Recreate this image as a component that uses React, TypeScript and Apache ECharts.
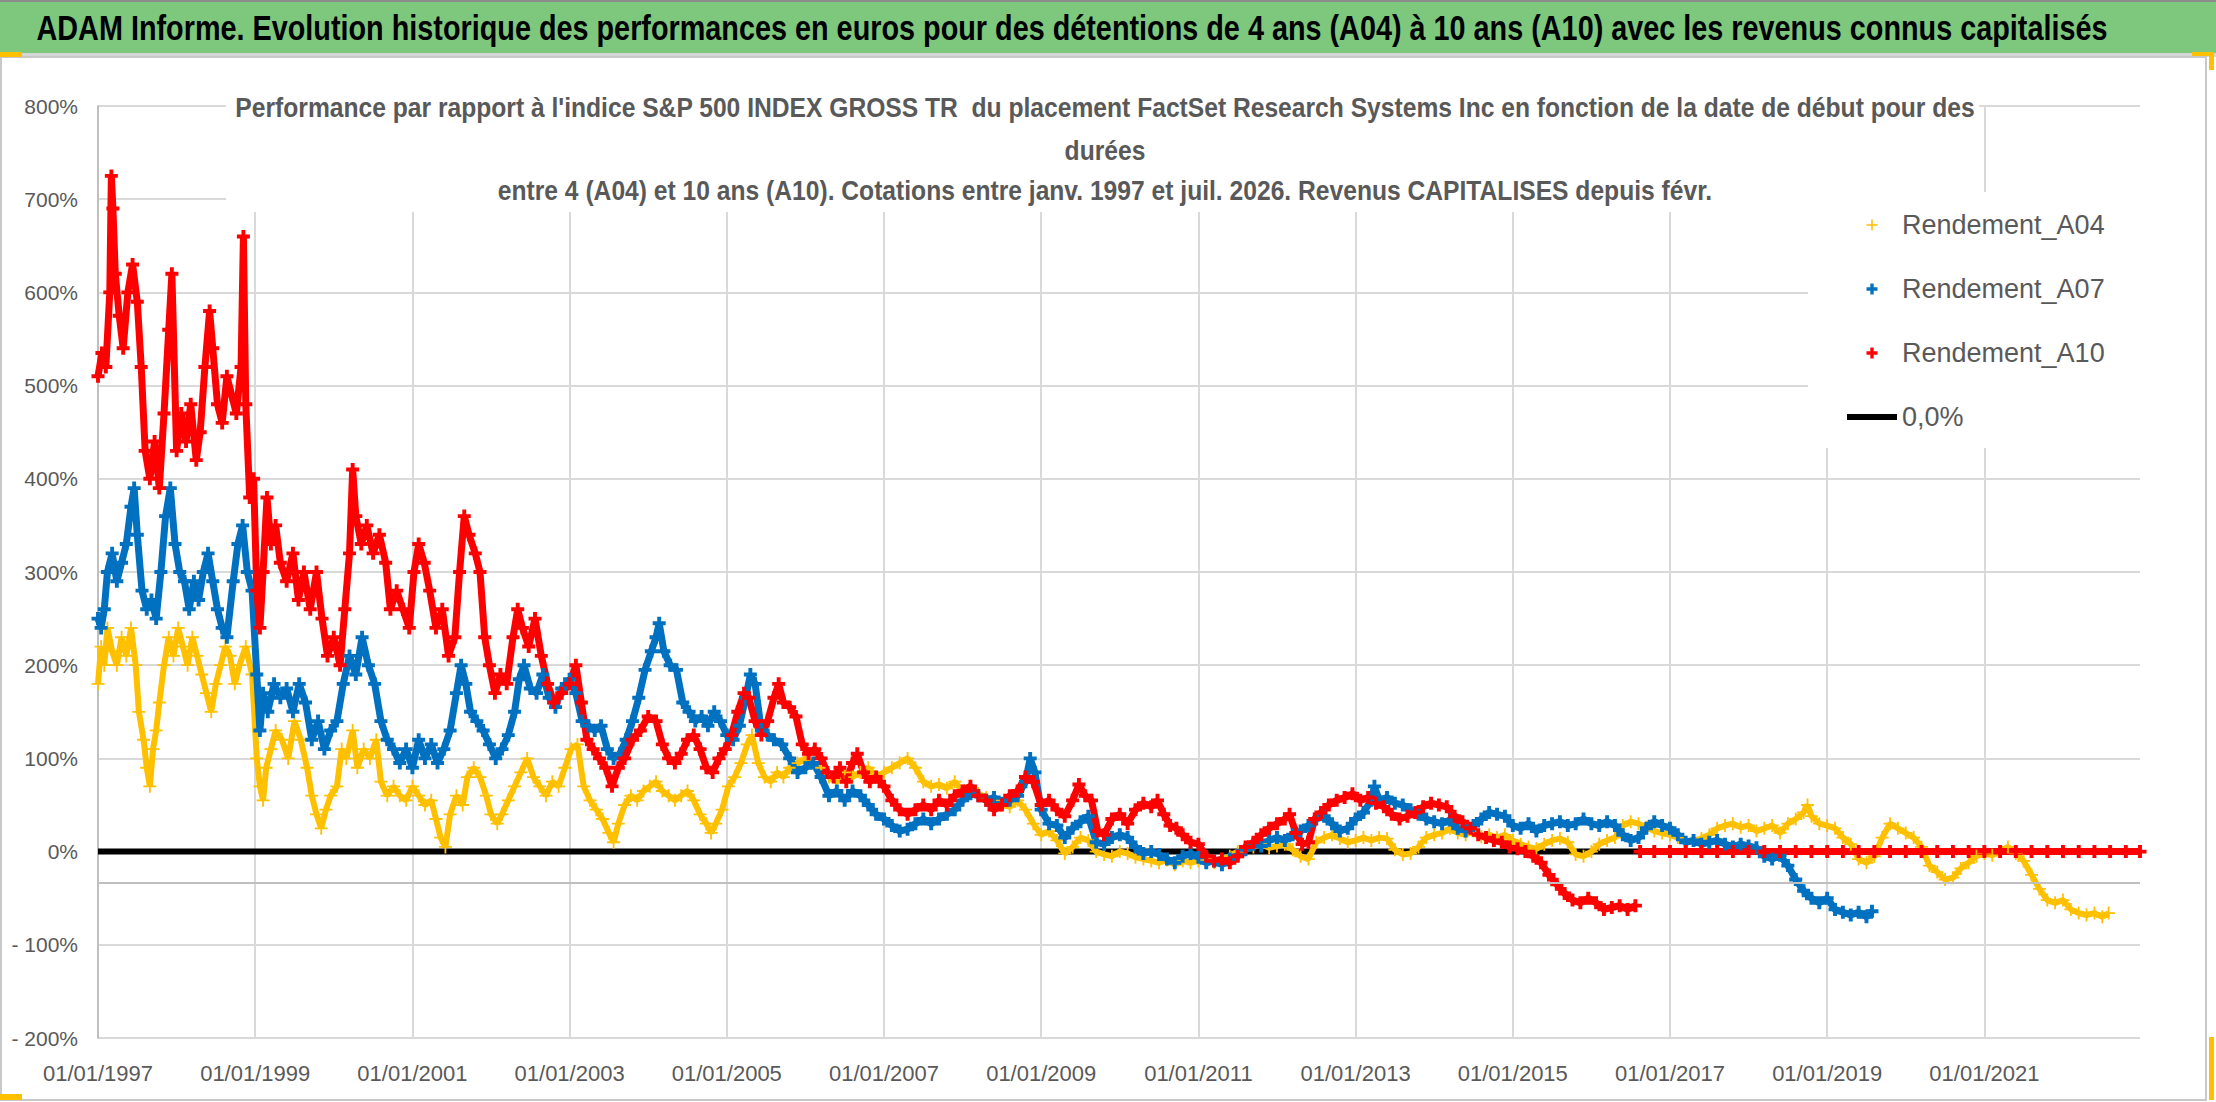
import { useEffect, useRef } from 'react';
import * as echarts from 'echarts';

const START_YEAR = 1997;
const END_X = 2022.98;
const AXIS_LINE_LEVEL = -33;

// [date as decimal year, performance %]
const rendementA04: [number, number][] = [
  [1997.0, 180], [1997.04, 220], [1997.08, 200], [1997.12, 240], [1997.18, 215], [1997.24, 200], [1997.3, 230],
  [1997.36, 210], [1997.42, 240], [1997.48, 200], [1997.52, 150], [1997.58, 120], [1997.62, 90], [1997.66, 70],
  [1997.7, 110], [1997.74, 130], [1997.78, 160], [1997.84, 200], [1997.9, 230], [1997.96, 210], [1998.02, 240],
  [1998.08, 220], [1998.14, 200], [1998.2, 230], [1998.26, 210], [1998.32, 190], [1998.38, 170], [1998.44, 150],
  [1998.5, 180], [1998.56, 200], [1998.62, 220], [1998.68, 210], [1998.74, 180], [1998.8, 200], [1998.88, 220],
  [1998.96, 190], [1999.02, 100], [1999.06, 70], [1999.1, 55], [1999.14, 90], [1999.2, 110], [1999.26, 130],
  [1999.34, 120], [1999.42, 100], [1999.5, 140], [1999.58, 120], [1999.66, 90], [1999.72, 60], [1999.78, 40],
  [1999.84, 25], [1999.9, 45], [1999.96, 60], [2000.04, 70], [2000.1, 110], [2000.16, 100], [2000.24, 130],
  [2000.3, 90], [2000.38, 110], [2000.46, 100], [2000.54, 120], [2000.6, 75], [2000.68, 60], [2000.76, 70],
  [2000.84, 60], [2000.92, 55], [2001.0, 70], [2001.08, 60], [2001.16, 50], [2001.24, 55], [2001.3, 35],
  [2001.36, 15], [2001.42, 5], [2001.48, 40], [2001.56, 60], [2001.64, 50], [2001.7, 80], [2001.78, 90],
  [2001.86, 80], [2001.94, 60], [2002.0, 40], [2002.08, 30], [2002.14, 40], [2002.22, 55], [2002.3, 70],
  [2002.38, 85], [2002.46, 100], [2002.54, 80], [2002.62, 70], [2002.7, 60], [2002.78, 75], [2002.86, 70],
  [2002.94, 90], [2003.02, 110], [2003.1, 115], [2003.18, 70], [2003.26, 55], [2003.34, 45], [2003.42, 35],
  [2003.5, 20], [2003.56, 10], [2003.62, 30], [2003.7, 50], [2003.78, 60], [2003.86, 55], [2003.94, 65],
  [2004.02, 70], [2004.1, 75], [2004.18, 65], [2004.26, 60], [2004.34, 55], [2004.42, 60], [2004.5, 65],
  [2004.58, 55], [2004.66, 40], [2004.74, 30], [2004.8, 20], [2004.86, 30], [2004.94, 45], [2005.02, 70],
  [2005.1, 80], [2005.18, 95], [2005.26, 115], [2005.32, 125], [2005.4, 95], [2005.48, 80], [2005.56, 75],
  [2005.64, 85], [2005.72, 80], [2005.8, 90], [2005.9, 95], [2006.0, 100], [2006.1, 95], [2006.2, 90],
  [2006.3, 80], [2006.4, 75], [2006.5, 85], [2006.6, 80], [2006.7, 85], [2006.8, 90], [2006.9, 80],
  [2007.0, 85], [2007.1, 90], [2007.2, 95], [2007.3, 100], [2007.4, 90], [2007.5, 75], [2007.6, 70],
  [2007.7, 72], [2007.8, 68], [2007.9, 75], [2008.0, 65], [2008.1, 70], [2008.2, 62], [2008.3, 58],
  [2008.4, 55], [2008.5, 50], [2008.6, 48], [2008.7, 55], [2008.8, 45], [2008.9, 30], [2009.0, 18],
  [2009.1, 22], [2009.2, 12], [2009.3, -2], [2009.4, 5], [2009.5, 15], [2009.6, 12], [2009.7, 0],
  [2009.8, -3], [2009.9, -5], [2010.0, 0], [2010.1, -2], [2010.2, -6], [2010.3, -8], [2010.4, -10],
  [2010.5, -12], [2010.6, -9], [2010.7, -14], [2010.8, -10], [2010.9, -12], [2011.0, -10], [2011.1, -8],
  [2011.2, -12], [2011.3, -9], [2011.4, -5], [2011.5, 0], [2011.6, 3], [2011.7, 5], [2011.8, 8],
  [2011.9, 4], [2012.0, 6], [2012.1, 8], [2012.2, 2], [2012.3, -5], [2012.4, -8], [2012.5, 10],
  [2012.6, 15], [2012.7, 18], [2012.8, 14], [2012.9, 10], [2013.0, 12], [2013.1, 15], [2013.2, 12],
  [2013.3, 15], [2013.4, 14], [2013.5, 2], [2013.6, -3], [2013.7, -2], [2013.8, 5], [2013.9, 15],
  [2014.0, 18], [2014.1, 20], [2014.2, 25], [2014.3, 20], [2014.4, 18], [2014.5, 22], [2014.6, 16],
  [2014.7, 18], [2014.8, 15], [2014.9, 18], [2015.0, 12], [2015.1, 8], [2015.2, 5], [2015.3, 3],
  [2015.4, 8], [2015.5, 12], [2015.6, 14], [2015.7, 10], [2015.8, -3], [2015.9, -5], [2016.0, 0],
  [2016.1, 8], [2016.2, 12], [2016.3, 15], [2016.4, 28], [2016.5, 32], [2016.6, 30], [2016.7, 26],
  [2016.8, 22], [2016.9, 20], [2017.0, 18], [2017.1, 15], [2017.2, 10], [2017.3, 12], [2017.4, 14],
  [2017.5, 18], [2017.6, 25], [2017.7, 28], [2017.8, 30], [2017.9, 26], [2018.0, 28], [2018.1, 22],
  [2018.2, 25], [2018.3, 28], [2018.4, 20], [2018.5, 30], [2018.6, 35], [2018.7, 42], [2018.75, 50],
  [2018.8, 38], [2018.9, 30], [2019.0, 28], [2019.1, 25], [2019.2, 15], [2019.3, 8], [2019.4, -8],
  [2019.5, -12], [2019.6, -5], [2019.7, 15], [2019.8, 30], [2019.9, 25], [2020.0, 20], [2020.1, 15],
  [2020.2, 5], [2020.3, -15], [2020.4, -22], [2020.5, -30], [2020.6, -28], [2020.7, -18], [2020.8, -12],
  [2020.9, -5], [2021.0, -2], [2021.1, -4], [2021.2, 0], [2021.3, 5], [2021.4, -2], [2021.5, -10],
  [2021.6, -25], [2021.7, -40], [2021.8, -52], [2021.9, -55], [2022.0, -52], [2022.1, -62], [2022.2, -66],
  [2022.3, -68], [2022.4, -66], [2022.5, -70], [2022.58, -66],
];

const rendementA07: [number, number][] = [
  [1997.0, 250], [1997.04, 240], [1997.08, 260], [1997.12, 300], [1997.18, 320], [1997.24, 290], [1997.3, 310],
  [1997.36, 330], [1997.42, 370], [1997.46, 390], [1997.5, 340], [1997.56, 280], [1997.62, 260], [1997.68, 270],
  [1997.74, 250], [1997.8, 300], [1997.86, 360], [1997.92, 390], [1997.98, 330], [1998.04, 300], [1998.1, 290],
  [1998.16, 260], [1998.22, 290], [1998.28, 270], [1998.34, 300], [1998.4, 320], [1998.46, 290], [1998.52, 260],
  [1998.58, 240], [1998.64, 230], [1998.72, 290], [1998.78, 330], [1998.84, 350], [1998.9, 300], [1998.96, 280],
  [1999.02, 190], [1999.06, 130], [1999.1, 170], [1999.16, 150], [1999.24, 180], [1999.32, 165], [1999.4, 175],
  [1999.48, 150], [1999.56, 180], [1999.64, 160], [1999.72, 120], [1999.8, 140], [1999.88, 110], [1999.96, 130],
  [2000.04, 140], [2000.12, 180], [2000.2, 210], [2000.28, 190], [2000.36, 230], [2000.44, 200], [2000.52, 180],
  [2000.6, 140], [2000.68, 120], [2000.76, 110], [2000.84, 95], [2000.92, 110], [2001.0, 90], [2001.08, 120],
  [2001.16, 100], [2001.24, 115], [2001.32, 95], [2001.4, 110], [2001.48, 130], [2001.56, 170], [2001.62, 200],
  [2001.68, 180], [2001.74, 150], [2001.82, 140], [2001.9, 130], [2001.98, 115], [2002.06, 100], [2002.14, 110],
  [2002.22, 125], [2002.3, 150], [2002.36, 185], [2002.42, 200], [2002.5, 175], [2002.58, 170], [2002.66, 190],
  [2002.74, 165], [2002.82, 155], [2002.9, 175], [2003.0, 185], [2003.08, 170], [2003.16, 140], [2003.24, 135],
  [2003.32, 130], [2003.4, 135], [2003.48, 110], [2003.56, 100], [2003.64, 105], [2003.72, 120], [2003.8, 140],
  [2003.88, 165], [2003.96, 195], [2004.04, 215], [2004.1, 230], [2004.14, 245], [2004.2, 215], [2004.28, 200],
  [2004.36, 195], [2004.44, 160], [2004.52, 150], [2004.6, 140], [2004.68, 145], [2004.76, 135], [2004.84, 150],
  [2004.92, 140], [2005.0, 125], [2005.08, 120], [2005.16, 135], [2005.24, 165], [2005.3, 190], [2005.36, 180],
  [2005.44, 130], [2005.52, 125], [2005.6, 120], [2005.7, 115], [2005.8, 100], [2005.9, 85], [2006.0, 90],
  [2006.1, 95], [2006.2, 80], [2006.3, 60], [2006.4, 65], [2006.5, 55], [2006.6, 65], [2006.7, 60],
  [2006.8, 50], [2006.9, 40], [2007.0, 35], [2007.1, 28], [2007.2, 22], [2007.3, 24], [2007.4, 30],
  [2007.5, 35], [2007.6, 30], [2007.7, 35], [2007.8, 40], [2007.9, 45], [2008.0, 55], [2008.1, 62],
  [2008.2, 60], [2008.3, 55], [2008.4, 58], [2008.5, 52], [2008.6, 55], [2008.7, 60], [2008.8, 75],
  [2008.86, 100], [2008.92, 85], [2009.0, 45], [2009.1, 30], [2009.2, 28], [2009.3, 15], [2009.4, 25],
  [2009.5, 32], [2009.6, 38], [2009.7, 10], [2009.8, 8], [2009.9, 15], [2010.0, 18], [2010.1, 15],
  [2010.2, 5], [2010.3, -2], [2010.4, 0], [2010.5, -3], [2010.6, -8], [2010.7, -12], [2010.8, -5],
  [2010.9, -2], [2011.0, -6], [2011.1, -12], [2011.2, -10], [2011.3, -14], [2011.4, -8], [2011.5, -4],
  [2011.6, 2], [2011.7, 8], [2011.8, 6], [2011.9, 12], [2012.0, 15], [2012.1, 12], [2012.2, 18],
  [2012.3, 22], [2012.4, 28], [2012.5, 35], [2012.6, 38], [2012.7, 30], [2012.8, 22], [2012.9, 25],
  [2013.0, 35], [2013.1, 42], [2013.2, 55], [2013.24, 70], [2013.3, 55], [2013.4, 58], [2013.5, 52],
  [2013.6, 50], [2013.7, 45], [2013.8, 40], [2013.9, 35], [2014.0, 32], [2014.1, 30], [2014.2, 34],
  [2014.3, 25], [2014.4, 22], [2014.5, 28], [2014.6, 35], [2014.7, 42], [2014.8, 40], [2014.9, 38],
  [2015.0, 28], [2015.1, 25], [2015.2, 30], [2015.3, 22], [2015.4, 28], [2015.5, 30], [2015.6, 32],
  [2015.7, 28], [2015.8, 30], [2015.9, 35], [2016.0, 30], [2016.1, 28], [2016.2, 32], [2016.3, 28],
  [2016.4, 18], [2016.5, 12], [2016.6, 15], [2016.7, 25], [2016.8, 32], [2016.9, 28], [2017.0, 25],
  [2017.1, 18], [2017.2, 10], [2017.3, 12], [2017.4, 8], [2017.5, 10], [2017.6, 12], [2017.7, 8],
  [2017.8, 5], [2017.9, 8], [2018.0, 6], [2018.1, 4], [2018.2, -5], [2018.3, -8], [2018.4, -4],
  [2018.5, -15], [2018.6, -30], [2018.7, -42], [2018.8, -50], [2018.9, -55], [2019.0, -50], [2019.1, -62],
  [2019.2, -65], [2019.3, -68], [2019.4, -65], [2019.5, -70], [2019.57, -64],
];

const rendementA10: [number, number][] = [
  [1997.0, 510], [1997.05, 535], [1997.1, 520], [1997.15, 600], [1997.17, 725], [1997.19, 690], [1997.22, 620],
  [1997.27, 575], [1997.32, 540], [1997.38, 600], [1997.44, 630], [1997.5, 590], [1997.55, 520], [1997.6, 430],
  [1997.66, 400], [1997.72, 440], [1997.78, 390], [1997.84, 470], [1997.9, 560], [1997.94, 620], [1998.0, 430],
  [1998.06, 470], [1998.12, 440], [1998.18, 480], [1998.25, 420], [1998.3, 450], [1998.36, 520], [1998.42, 580],
  [1998.46, 540], [1998.52, 480], [1998.58, 460], [1998.64, 510], [1998.7, 490], [1998.76, 470], [1998.82, 520],
  [1998.85, 660], [1998.88, 480], [1998.93, 380], [1998.98, 400], [1999.02, 280], [1999.06, 240], [1999.1, 300],
  [1999.15, 380], [1999.2, 330], [1999.26, 350], [1999.32, 310], [1999.4, 290], [1999.48, 320], [1999.55, 270],
  [1999.62, 300], [1999.7, 260], [1999.78, 300], [1999.85, 250], [1999.92, 210], [2000.0, 230], [2000.08, 200],
  [2000.14, 260], [2000.2, 320], [2000.24, 410], [2000.28, 360], [2000.35, 330], [2000.42, 350], [2000.5, 320],
  [2000.58, 340], [2000.66, 310], [2000.72, 260], [2000.8, 280], [2000.88, 260], [2000.96, 240], [2001.02, 300],
  [2001.08, 330], [2001.15, 310], [2001.22, 280], [2001.3, 240], [2001.38, 260], [2001.46, 210], [2001.54, 230],
  [2001.6, 300], [2001.66, 360], [2001.72, 340], [2001.8, 320], [2001.86, 300], [2001.92, 230], [2001.98, 200],
  [2002.05, 170], [2002.12, 190], [2002.2, 180], [2002.28, 230], [2002.34, 260], [2002.4, 240], [2002.48, 220],
  [2002.56, 250], [2002.64, 210], [2002.72, 180], [2002.8, 160], [2002.9, 170], [2003.0, 180], [2003.08, 200],
  [2003.15, 160], [2003.22, 120], [2003.3, 110], [2003.38, 100], [2003.46, 90], [2003.54, 70], [2003.62, 90],
  [2003.7, 100], [2003.8, 120], [2003.9, 130], [2004.0, 145], [2004.1, 140], [2004.18, 115], [2004.26, 100],
  [2004.34, 95], [2004.42, 105], [2004.5, 120], [2004.58, 125], [2004.66, 110], [2004.74, 90], [2004.82, 85],
  [2004.9, 100], [2004.98, 110], [2005.06, 125], [2005.14, 150], [2005.22, 170], [2005.28, 165], [2005.36, 140],
  [2005.44, 125], [2005.52, 140], [2005.6, 165], [2005.66, 180], [2005.72, 160], [2005.8, 155], [2005.88, 145],
  [2005.96, 115], [2006.04, 105], [2006.12, 110], [2006.2, 100], [2006.28, 85], [2006.36, 80], [2006.44, 90],
  [2006.52, 75], [2006.6, 95], [2006.66, 105], [2006.74, 85], [2006.82, 75], [2006.9, 80], [2007.0, 70],
  [2007.1, 55], [2007.2, 45], [2007.3, 40], [2007.4, 45], [2007.5, 50], [2007.6, 45], [2007.7, 55],
  [2007.8, 50], [2007.9, 60], [2008.0, 65], [2008.1, 70], [2008.2, 60], [2008.3, 55], [2008.4, 45],
  [2008.5, 50], [2008.6, 60], [2008.7, 65], [2008.8, 80], [2008.9, 75], [2009.0, 50], [2009.1, 55],
  [2009.2, 45], [2009.3, 38], [2009.4, 55], [2009.48, 72], [2009.56, 60], [2009.64, 55], [2009.72, 22],
  [2009.8, 18], [2009.9, 35], [2010.0, 40], [2010.1, 30], [2010.2, 45], [2010.3, 52], [2010.4, 48],
  [2010.48, 55], [2010.56, 40], [2010.64, 28], [2010.72, 25], [2010.8, 18], [2010.9, 10], [2011.0, 8],
  [2011.1, -5], [2011.2, -10], [2011.3, -8], [2011.4, -12], [2011.5, -5], [2011.6, 5], [2011.7, 10],
  [2011.8, 18], [2011.9, 25], [2012.0, 30], [2012.1, 35], [2012.16, 40], [2012.24, 20], [2012.32, 8],
  [2012.4, 10], [2012.48, 35], [2012.56, 42], [2012.66, 50], [2012.76, 55], [2012.86, 58], [2012.96, 62],
  [2013.06, 55], [2013.16, 58], [2013.26, 52], [2013.36, 48], [2013.46, 40], [2013.56, 35], [2013.66, 38],
  [2013.76, 42], [2013.86, 48], [2013.96, 52], [2014.06, 50], [2014.16, 48], [2014.26, 38], [2014.36, 32],
  [2014.46, 25], [2014.56, 18], [2014.66, 15], [2014.76, 12], [2014.86, 10], [2014.96, 5], [2015.06, 3],
  [2015.16, 0], [2015.26, -5], [2015.36, -12], [2015.46, -25], [2015.56, -35], [2015.66, -45], [2015.76, -52],
  [2015.86, -55], [2015.96, -50], [2016.06, -55], [2016.16, -62], [2016.26, -60], [2016.36, -58], [2016.46, -62],
  [2016.56, -58],
];

// A10 has no value after mid-2016: the sheet plots these start dates at 0
const rendementA10Zero: [number, number][] = [
  [2016.62, 0], [2016.8, 0], [2017.0, 0], [2017.2, 0], [2017.4, 0], [2017.6, 0], [2017.8, 0], [2018.0, 0],
  [2018.2, 0], [2018.4, 0], [2018.6, 0], [2018.8, 0], [2019.0, 0], [2019.2, 0], [2019.4, 0], [2019.6, 0],
  [2019.8, 0], [2020.0, 0], [2020.2, 0], [2020.4, 0], [2020.6, 0], [2020.8, 0], [2021.0, 0], [2021.2, 0],
  [2021.4, 0], [2021.6, 0], [2021.8, 0], [2022.0, 0], [2022.2, 0], [2022.4, 0], [2022.6, 0], [2022.8, 0],
  [2022.98, 0],
];

const zeroLine: [number, number][] = [[1997.0, 0], [END_X, 0]];

const MAIN_TITLE =
  'ADAM Informe. Evolution historique des performances en euros pour des détentions de 4 ans (A04) à 10 ans (A10) avec les revenus connus capitalisés';
const SUB_TITLE = [
  "Performance par rapport à l'indice S&P 500 INDEX GROSS TR  du placement FactSet Research Systems Inc en fonction de la date de début pour des",
  'durées',
  'entre 4 (A04) et 10 ans (A10). Cotations entre janv. 1997 et juil. 2026. Revenus CAPITALISES depuis févr.',
];

const FONT = "'Liberation Sans', Arial, sans-serif";
const GREY_TEXT = '#595959';
const GRID_COLOR = '#D9D9D9';

const PLUS_BOLD = 'path://M3.5 0h3v3.5h3.5v3h-3.5v3.5h-3v-3.5h-3.5v-3h3.5z';
const PLUS_THIN = 'path://M4.3 0h1.4v4.3h4.3v1.4h-4.3v4.3h-1.4v-4.3h-4.3v-1.4h4.3z';
const LINE_ICON = 'path://M0 0h50v6h-50z';

const toX = (pts: [number, number][]) => pts.map(([d, v]) => [d - START_YEAR, v]);

function scatterLine(name: string, color: string, data: (number[] | string[])[], plus: string, width: number) {
  return {
    name,
    type: 'line' as const,
    data,
    symbol: plus,
    symbolSize: 13,
    showSymbol: true,
    showAllSymbol: true,
    connectNulls: false,
    itemStyle: { color },
    lineStyle: { color, width },
    z: 3,
  };
}

// Calibri is not available: a scaled sans keeps the condensed look and the widths
function titleText(text: string, x: number, y: number, size: number, scaleX: number, fill: string) {
  return {
    type: 'text',
    x,
    y,
    scaleX,
    z: 6,
    style: {
      text,
      fill,
      fontSize: size,
      fontWeight: 'bold',
      fontFamily: FONT,
      align: 'center',
      verticalAlign: 'middle',
      textAlign: 'center',
      textVerticalAlign: 'middle',
    },
  };
}

function buildOption(): echarts.EChartsCoreOption {
  const a10 = [...toX(rendementA10), ['-', '-'], ...toX(rendementA10Zero)];
  return {
    animation: false,
    backgroundColor: '#ffffff',
    grid: { left: 98, right: 76, top: 106, bottom: 64, containLabel: false },
    xAxis: {
      type: 'value',
      min: 0,
      max: END_X - START_YEAR,
      interval: 2,
      axisLine: { show: false },
      axisTick: { show: false },
      axisLabel: {
        formatter: (v: number) => '01/01/' + Math.round(START_YEAR + v),
        showMaxLabel: false,
        margin: 24,
        color: GREY_TEXT,
        fontSize: 22,
        fontFamily: FONT,
      },
      splitLine: { show: true, showMinLine: false, showMaxLine: false, lineStyle: { color: GRID_COLOR, width: 2 } },
    },
    yAxis: {
      type: 'value',
      min: -200,
      max: 800,
      interval: 100,
      axisLine: { show: true, lineStyle: { color: '#BFBFBF', width: 2 } },
      axisTick: { show: false },
      axisLabel: {
        formatter: (v: number) => (v < 0 ? '- ' + -v + '%' : v + '%'),
        margin: 20,
        color: GREY_TEXT,
        fontSize: 21,
        fontFamily: FONT,
      },
      splitLine: { lineStyle: { color: GRID_COLOR, width: 2 } },
    },
    legend: {
      orient: 'vertical',
      left: 1808,
      top: 192,
      padding: [18, 38, 16, 39],
      backgroundColor: '#ffffff',
      itemWidth: 50,
      itemHeight: 11,
      itemGap: 34,
      selectedMode: false,
      textStyle: { fontSize: 27, lineHeight: 30, color: GREY_TEXT, fontFamily: FONT },
      data: [
        { name: 'Rendement_A04', icon: PLUS_THIN },
        { name: 'Rendement_A07', icon: PLUS_BOLD },
        { name: 'Rendement_A10', icon: PLUS_BOLD },
        { name: '0,0%', icon: LINE_ICON },
      ],
    },
    graphic: [
      { type: 'rect', shape: { x: 0, y: 0, width: 2216, height: 2 }, style: { fill: '#8C8C8C' }, z: 0 },
      { type: 'rect', shape: { x: 0, y: 2, width: 2216, height: 51 }, style: { fill: '#7DC87D' }, z: 0 },
      { type: 'rect', shape: { x: 0, y: 53, width: 2216, height: 4 }, style: { fill: '#D6D6D6' }, z: 0 },
      { type: 'rect', shape: { x: 226, y: 92, width: 1753, height: 120 }, style: { fill: '#ffffff' }, z: 1 },
      {
        type: 'rect',
        shape: { x: 1, y: 57, width: 2205, height: 1043 },
        style: { fill: 'none', stroke: '#C8C8C8', lineWidth: 2 },
        z: 0,
      },
      { type: 'rect', shape: { x: 0, y: 52, width: 22, height: 5 }, style: { fill: '#FFC000' }, z: 5 },
      { type: 'rect', shape: { x: 2192, y: 52, width: 21, height: 4 }, style: { fill: '#FFC000' }, z: 5 },
      { type: 'rect', shape: { x: 2209, y: 52, width: 5, height: 18 }, style: { fill: '#FFC000' }, z: 5 },
      { type: 'rect', shape: { x: 0, y: 1094, width: 22, height: 6 }, style: { fill: '#FFC000' }, z: 5 },
      { type: 'rect', shape: { x: 2209, y: 1037, width: 5, height: 63 }, style: { fill: '#FFC000' }, z: 5 },
      titleText(MAIN_TITLE, 1072, 28, 35, 0.823, '#000000'),
      ...SUB_TITLE.map((text, i) => titleText(text, 1105, [107, 150, 190][i], 28, 0.88, GREY_TEXT)),
    ],
    series: [
      {
        name: '0,0%',
        type: 'line',
        data: toX(zeroLine),
        symbol: 'none',
        itemStyle: { color: '#000000' },
        lineStyle: { color: '#000000', width: 6 },
        z: 2,
        markLine: {
          silent: true,
          symbol: ['none', 'none'],
          label: { show: false },
          lineStyle: { color: '#BFBFBF', width: 2, type: 'solid' },
          data: [{ yAxis: AXIS_LINE_LEVEL }],
        },
      },
      scatterLine('Rendement_A04', '#FFC000', toX(rendementA04), PLUS_THIN, 6),
      scatterLine('Rendement_A07', '#0070C0', toX(rendementA07), PLUS_BOLD, 7),
      scatterLine('Rendement_A10', '#FF0000', a10, PLUS_BOLD, 7),
    ],
  };
}

export default function App() {
  const ref = useRef<HTMLDivElement>(null);

  useEffect(() => {
    if (!ref.current) return;
    const chart = echarts.init(ref.current, undefined, { renderer: 'svg' });
    chart.setOption(buildOption());
    return () => chart.dispose();
  }, []);

  return (
    <div
      ref={ref}
      style={{ position: 'fixed', left: 0, top: 0, width: 2216, height: 1102, background: '#ffffff' }}
    />
  );
}
